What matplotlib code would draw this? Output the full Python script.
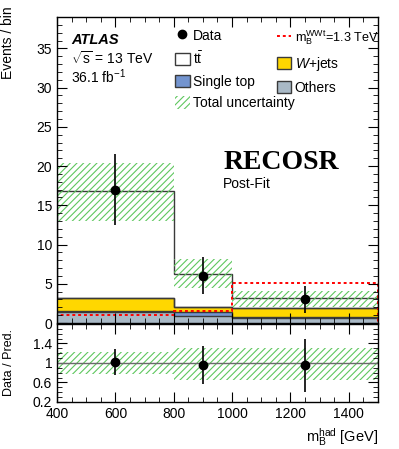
import numpy as np
import matplotlib
matplotlib.use("Agg")
import matplotlib.pyplot as plt
from matplotlib.patches import Patch
from matplotlib.lines import Line2D
from matplotlib.ticker import MultipleLocator

plt.rcParams['font.family'] = ['Liberation Sans', 'DejaVu Sans']
plt.rcParams['mathtext.fontset'] = 'custom'
plt.rcParams['mathtext.rm'] = 'Liberation Sans'
plt.rcParams['mathtext.it'] = 'Liberation Sans:italic'
plt.rcParams['mathtext.bf'] = 'Liberation Sans:bold'
plt.rcParams['hatch.linewidth'] = 0.8

edges = np.array([400, 800, 1000, 1500])
centers = np.array([600, 900, 1250])

others = np.array([1.35, 0.9, 0.6])
single_top = np.array([0.2, 0.46, 0.2])
wjets = np.array([1.7, 0.64, 1.07])
ttbar = np.array([13.55, 4.3, 1.28])
signal = np.array([1.06, 1.49, 5.05])
unc_up = np.array([20.45, 8.1, 4.1])
unc_dn = np.array([13.0, 4.5, 2.1])

data = np.array([17.0, 6.0, 3.0])
data_hi = np.array([21.6, 8.4, 4.7])
data_lo = np.array([12.5, 3.65, 1.3])

ratio = np.array([1.02, 0.95, 0.95])
ratio_hi = np.array([1.29, 1.35, 1.49])
ratio_lo = np.array([0.75, 0.57, 0.41])
rband_up = np.array([1.23, 1.30, 1.30])
rband_dn = np.array([0.77, 0.65, 0.65])

c_others = '#a9b9c6'
c_single = '#7394cf'
c_wjets = '#ffd700'
c_hatch = '#5fc75f'
edge_c = '#3a3a3a'
hatch = '/////'

fig = plt.figure(figsize=(3.99, 4.49), dpi=100)
ax = fig.add_axes([0.143, 0.2806, 0.804, 0.6816])
rx = fig.add_axes([0.143, 0.1047, 0.804, 0.1737], sharex=ax)

# stacked backgrounds
b0 = np.zeros(3)
b1 = others
b2 = b1 + single_top
b3 = b2 + wjets
tot = b3 + ttbar
ax.stairs(b1, edges, baseline=b0, fill=True, color=c_others)
ax.stairs(b2, edges, baseline=b1, fill=True, color=c_single)
ax.stairs(b3, edges, baseline=b2, fill=True, color=c_wjets)
for lvl in (b1, b2, b3):
    ax.stairs(lvl, edges, baseline=None, color=edge_c, lw=1.0)
ax.stairs(tot, edges, baseline=b3, fill=False, color=edge_c, lw=1.0)
ax.stairs(unc_up, edges, baseline=unc_dn, fill=True, facecolor='none',
          edgecolor=c_hatch, hatch=hatch, lw=0)
ax.stairs(signal, edges, baseline=0, color='#ff0000', ls=(0, (1.5, 1.5)), lw=1.4)
ax.errorbar(centers, data, yerr=[data - data_lo, data_hi - data], fmt='o',
            color='black', ms=6, lw=1.2, capsize=0)

ax.set_xlim(400, 1500)
ax.set_ylim(0, 39)
ax.yaxis.set_major_locator(MultipleLocator(5))
ax.yaxis.set_minor_locator(MultipleLocator(1))
ax.xaxis.set_major_locator(MultipleLocator(200))
ax.xaxis.set_minor_locator(MultipleLocator(50))
ax.set_ylabel('Events / bin', fontsize=10, loc='top')
ax.tick_params(labelbottom=False)

h_left = [
    Line2D([], [], marker='o', color='black', ms=6, ls='none'),
    Patch(facecolor='white', edgecolor=edge_c),
    Patch(facecolor=c_single, edgecolor=edge_c),
    Patch(facecolor='none', edgecolor=c_hatch, hatch=hatch, lw=0),
]
l_left = ['Data', r'$\mathrm{t\bar{t}}$', 'Single top', 'Total uncertainty']
h_right = [
    Line2D([], [], color='#ff0000', ls=(0, (1.5, 1.5)), lw=1.4),
    Patch(facecolor=c_wjets, edgecolor=edge_c),
    Patch(facecolor=c_others, edgecolor=edge_c),
]
l_right = [r'$\mathrm{m_B^{WWt}}$=1.3 TeV', r'$W$+jets', 'Others']
leg_kw = dict(loc='upper left', frameon=False, fontsize=10, handlelength=1.05,
              handleheight=1.0, handletextpad=0.25, labelspacing=0.55,
              borderaxespad=0, borderpad=0)
leg1 = ax.legend(h_left, l_left, bbox_to_anchor=(0.368, 0.962), **leg_kw)
ax.add_artist(leg1)
leg2 = ax.legend(h_right, l_right, bbox_to_anchor=(0.685, 0.962), **leg_kw)
leg2.get_texts()[0].set_fontsize(9.1)

ax.text(0.045, 0.925, 'ATLAS', transform=ax.transAxes, fontsize=10.5,
        fontweight='bold', style='italic', va='center')
ax.text(0.045, 0.865, r'$\sqrt{\mathrm{s}}$ = 13 TeV', transform=ax.transAxes,
        fontsize=10, va='center')
ax.text(0.045, 0.805, r'36.1 fb$^{\mathrm{-1}}$', transform=ax.transAxes,
        fontsize=10, va='center')
ax.text(0.518, 0.525, 'RECOSR', transform=ax.transAxes, fontsize=20,
        fontweight='bold', family='Liberation Serif', va='center')
ax.text(0.518, 0.453, 'Post-Fit', transform=ax.transAxes, fontsize=10, va='center')

# ratio panel
rx.axhline(1, color='#6a6a6a', lw=1.0)
rx.stairs(rband_up, edges, baseline=rband_dn, fill=True, facecolor='none',
          edgecolor=c_hatch, hatch=hatch, lw=0)
rx.errorbar(centers, ratio, yerr=[ratio - ratio_lo, ratio_hi - ratio], fmt='o',
            color='black', ms=6, lw=1.2, capsize=0)
rx.set_ylim(0.2, 1.8)
rx.set_yticks([0.2, 0.6, 1.0, 1.4])
rx.set_yticklabels(['0.2', '0.6', '1', '1.4'])
rx.yaxis.set_minor_locator(MultipleLocator(0.1))
rx.set_ylabel('Data / Pred.', fontsize=9)
rx.set_xlabel(r'$\mathrm{m_B^{had}}$ [GeV]', fontsize=10.5, loc='right')

for a in (ax, rx):
    a.tick_params(which='both', direction='in', top=True, right=True,
                  labelsize=10, color='black')
    a.tick_params(which='major', length=7)
    a.tick_params(which='minor', length=3.5)
    for s in a.spines.values():
        s.set_linewidth(1.0)

ax.yaxis.set_label_coords(-0.13, 1.036)
rx.yaxis.set_label_coords(-0.13, 0.5)

fig.savefig('out.png', dpi=100)
